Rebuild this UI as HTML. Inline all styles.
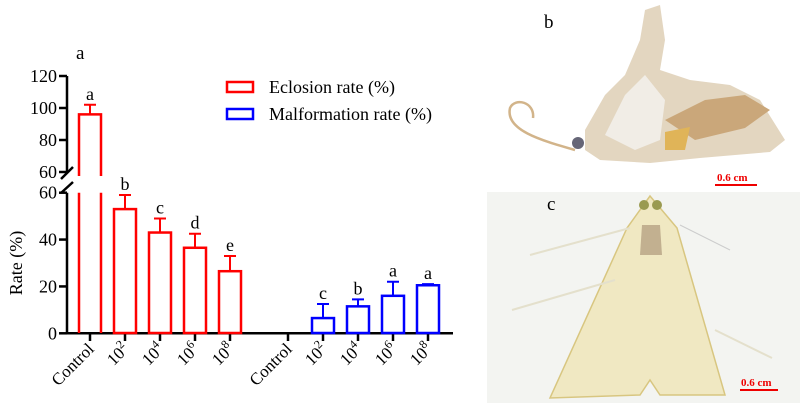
<!DOCTYPE html>
<html><head><meta charset="utf-8">
<style>
html,body{margin:0;padding:0;background:#fff;}
svg, svg text{font-family:"Liberation Serif","Times New Roman","DejaVu Serif",serif;}
svg{display:block;}
</style></head>
<body>
<svg width="800" height="403" viewBox="0 0 800 403">
<g id="chart"></g>
<g>
  <polygon points="585,130 605,95 625,75 640,40 645,10 660,5 665,40 660,70 690,80 730,85 760,100 785,140 770,152 700,158 650,163 600,160 585,150" fill="#e3d6c0"/>
  <polygon points="605,135 625,95 645,75 665,100 660,140 635,150" fill="#f1ede6"/>
  <polygon points="665,120 705,100 745,95 770,110 745,128 695,140" fill="#caa77a"/>
  <polygon points="665,132 690,127 685,150 665,150" fill="#e0b458"/>
  <path d="M575,150 C540,140 505,130 510,108 C515,97 535,102 533,118" stroke="#d2b48a" stroke-width="2.5" fill="none"/>
  <circle cx="578" cy="143" r="6" fill="#667"/>
  <text x="544" y="28" font-size="19">b</text>
  <text x="717" y="181" font-size="11" font-weight="bold" fill="#e00">0.6 cm</text>
  <line x1="715" y1="185" x2="757" y2="185" stroke="#e00" stroke-width="2"/>
</g>
<g>
  <rect x="487" y="192" width="313" height="211" fill="#f3f4f1"/>
  <polygon points="650,196 677,228 725,395 660,395 650,380 640,395 550,398 627,228" fill="#f0e8c2" stroke="#d8c680" stroke-width="1.5"/>
  <polygon points="642,225 660,225 662,255 640,255" fill="#c2b090"/>
  <circle cx="644" cy="205" r="5" fill="#9a9a50"/><circle cx="657" cy="205" r="5" fill="#9a9a50"/>
  <line x1="630" y1="228" x2="530" y2="255" stroke="#e4e0cc" stroke-width="2"/>
  <line x1="615" y1="280" x2="512" y2="310" stroke="#e4e0cc" stroke-width="2"/>
  <line x1="680" y1="225" x2="730" y2="250" stroke="#ccc" stroke-width="1"/>
  <line x1="715" y1="330" x2="772" y2="358" stroke="#e4e0cc" stroke-width="2"/>
  <text x="547" y="210" font-size="19">c</text>
  <text x="741" y="386" font-size="11" font-weight="bold" fill="#e00">0.6 cm</text>
  <line x1="740" y1="390" x2="778" y2="390" stroke="#e00" stroke-width="2"/>
</g>
</svg>
<script>
const categories = ["Control","10^2","10^4","10^6","10^8"];
const eclosion = [96, 53, 43, 36.5, 26.5];
const eclosionErr = [6, 6, 6, 6, 6.5];
const eclosionLetters = ["a","b","c","d","e"];
const malformation = [0, 6.5, 11.5, 16, 20.5];
const malformationErr = [0, 6, 3, 6, 0.5];
const malformationLetters = ["","c","b","a","a"];
const lowerTicks = [0,20,40,60];
const upperTicks = [60,80,100,120];

const NS="http://www.w3.org/2000/svg";
const g=document.getElementById('chart');
function el(tag,attrs,parent){const e=document.createElementNS(NS,tag);for(const k in attrs)e.setAttribute(k,attrs[k]);(parent||g).appendChild(e);return e;}
const axX=67;
function lowY(v){return 333.3-(v/60)*140.6;}
function upY(v){return 172-(v-60)/60*96;}
function yOf(v){return v<=60?lowY(v):upY(v);}

let a=el('line',{x1:axX,y1:lowY(60),x2:axX,y2:lowY(0),stroke:'#000','stroke-width':2.5});

a=el('line',{x1:axX,y1:upY(120),x2:axX,y2:upY(60),stroke:'#000','stroke-width':2.5});

a=el('line',{x1:axX,y1:lowY(0),x2:453,y2:lowY(0),stroke:'#000','stroke-width':2.5});

el('line',{x1:61,y1:179,x2:73,y2:167,stroke:'#000','stroke-width':2.5});
el('line',{x1:61,y1:193,x2:73,y2:182,stroke:'#000','stroke-width':2.5});
function tick(v,fn,name){
  const y=fn(v);
  el('line',{x1:axX-8,y1:y,x2:axX,y2:y,stroke:'#000','stroke-width':2.5});
  const t=el('text',{x:axX-10,y:y+6,'text-anchor':'end','font-size':18});
  t.textContent=v;
  
  
}
lowerTicks.forEach(v=>tick(v,lowY,'y-tick-lower'));
upperTicks.forEach(v=>tick(v,upY,'y-tick-upper'));
const yl=el('text',{x:0,y:0,transform:'translate(22,263) rotate(-90)','text-anchor':'middle','font-size':18});
yl.textContent='Rate (%)';


const pl=el('text',{x:76,y:59,'font-size':19});
pl.textContent='a';



const bw=22;
function drawGroup(vals,errs,letters,color,gi,prefix){
  vals.forEach((v,i)=>{
    const cx=(gi?288:90)+i*35;
    el('line',{x1:cx,y1:333,x2:cx,y2:341,stroke:'#000','stroke-width':2.5});
    const lab=el('text',{x:0,y:0,transform:`translate(${cx+5},350) rotate(-45)`,'text-anchor':'end','font-size':17});
    
    
    const c=categories[i];
    if(c.indexOf('^')>0){const p=c.split('^');lab.textContent=p[0];const s=el('tspan',{dy:-7,'font-size':12},lab);s.textContent=p[1];}
    else lab.textContent=c;
    if(v<=0) return;
    const top=yOf(v);
    let bar;
    if(v>60){
      bar=el('path',{d:`M${cx-bw/2},333 V${lowY(60)} M${cx+bw/2},333 V${lowY(60)} M${cx-bw/2},${upY(60)+4} V${top} H${cx+bw/2} V${upY(60)+4}`,fill:'none',stroke:color,'stroke-width':2.5});
    } else {
      bar=el('rect',{x:cx-bw/2,y:top,width:bw,height:333-top,fill:'none',stroke:color,'stroke-width':2.5});
    }
    
    
    const et=yOf(v+errs[i]);
    const eb=el('path',{d:`M${cx},${top} V${et} M${cx-6},${et} H${cx+6}`,stroke:color,'stroke-width':2,fill:'none'});
    
    
    if(letters[i]){
      const t=el('text',{x:cx,y:et-5,'text-anchor':'middle','font-size':18});
      t.textContent=letters[i];
      
      
    }
  });
}
drawGroup(eclosion,eclosionErr,eclosionLetters,'#f00',0,'eclosion');
drawGroup(malformation,malformationErr,malformationLetters,'#00f',1,'malformation');

[['#f00','Eclosion rate (%)',87],['#00f','Malformation rate (%)',114]].forEach(([c,txt,y])=>{
  const r=el('rect',{x:227,y:y-5,width:26,height:10,fill:'none',stroke:c,'stroke-width':2.5});
  
  
  const t=el('text',{x:269,y:y+6,'font-size':18});
  t.textContent=txt;
  
  
});
</script>
</body></html>
